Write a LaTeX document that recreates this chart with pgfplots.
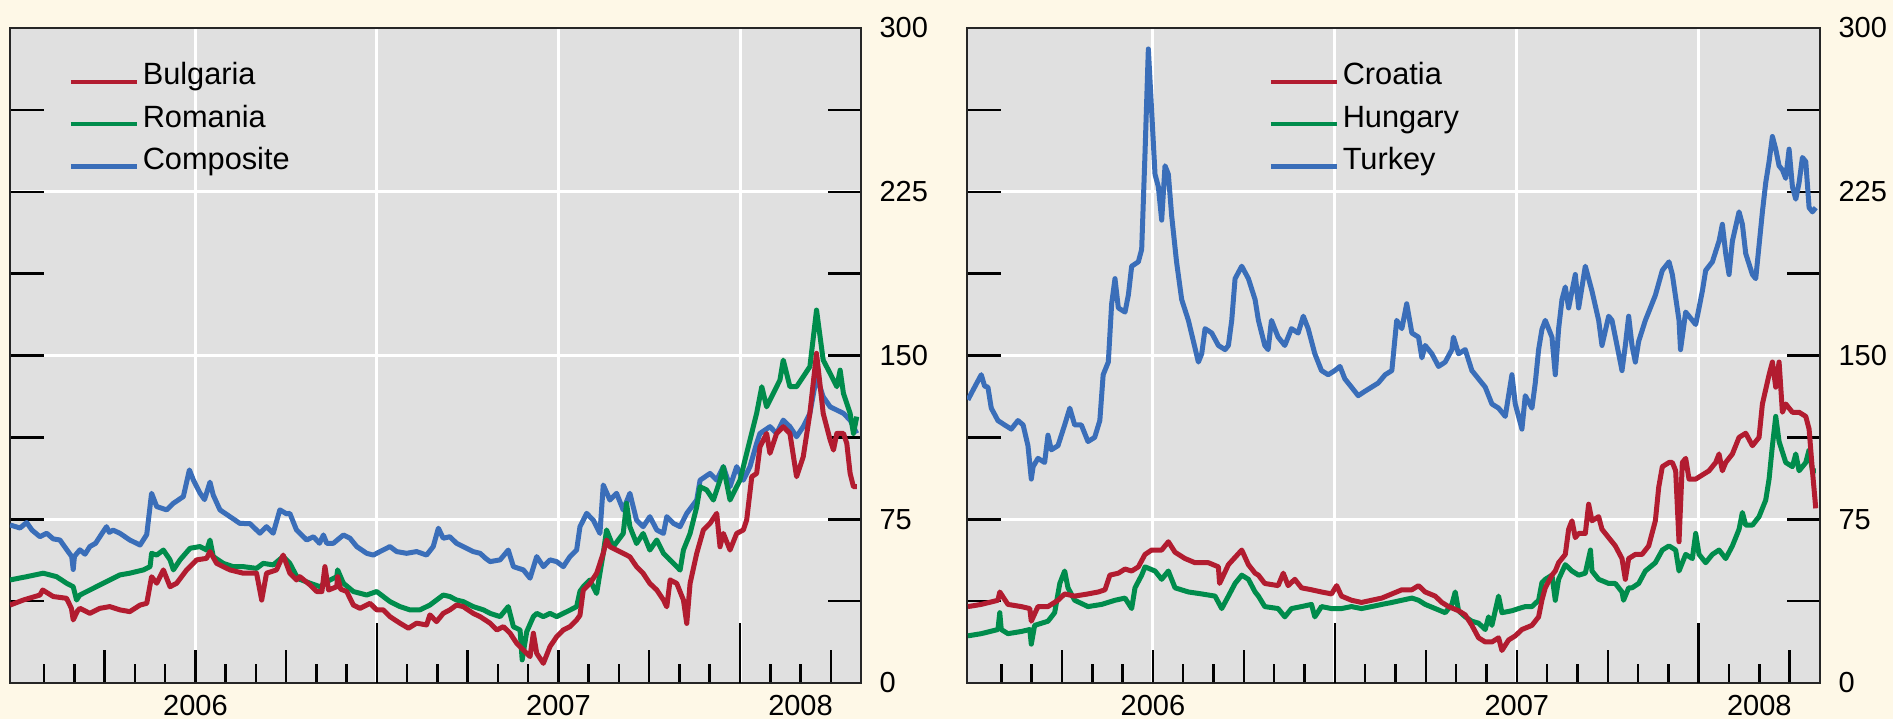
\documentclass[border=0pt]{standalone}
\usepackage{fontspec}
\setmainfont{Liberation Sans}
\usepackage{pgfplots}
\pgfplotsset{compat=1.18}
\definecolor{cream}{RGB}{254,248,231}
\definecolor{plotgray}{RGB}{224,224,224}
\definecolor{cred}{RGB}{178,28,48}
\definecolor{cgreen}{RGB}{0,140,76}
\definecolor{cblue}{RGB}{58,110,185}
\newcommand\tickfont{\fontsize{11.6}{13}\selectfont}
\newcommand\legfont{\fontsize{12.3}{14}\selectfont}
\tikzset{yearlab/.style={anchor=north, inner sep=0pt, font=\tickfont, yshift=-4.5pt}}
\pgfplotsset{
  base/.style={scale only axis, height=262pt, xmin=-0.13, xmax=28.0, ymin=0, ymax=300, anchor=south west},
  gridax/.style={base, axis background/.style={fill=plotgray}, axis line style={draw=none},
    xtick={6,12,18,24}, ytick={75,150,225}, xmajorgrids, ymajorgrids,
    major grid style={white, line width=1.2pt}, major tick length=0pt,
    xticklabels={}, yticklabels={}, tick style={draw=none}},
  dataax/.style={base, axis line style={line width=1.1pt, black!85},
    xtick={3,6,9,15,18,21,27},
    minor xtick={1,2,4,5,7,8,10,11,13,14,16,17,19,20,22,23,25,26},
    extra x ticks={12,24}, extra x tick labels={},
    extra x tick style={major tick length=24pt, tick style={black, line width=1pt}},
    major tick length=13.4pt, minor tick length=7.6pt,
    xtick pos=left, xticklabels={},
    ytick={0,37.5,75,112.5,150,187.5,225,262.5,300},
    yticklabels={0,,75,,150,,225,,300},
    yticklabel pos=right, ytick pos=both,
    tick align=inside,
    tick style={black, line width=1pt},
    yticklabel style={anchor=west, inner sep=0pt, xshift=7.2pt, font=\tickfont},
    clip mode=individual,
    every axis plot/.append style={line width=2pt, line join=round, no markers},
    legend style={draw=none, fill=none, anchor=north west, at={(0,1)}, yshift=-13.5pt,
      font=\legfont, inner sep=0pt, row sep=3.9pt, column sep=1.5pt,
      nodes={inner sep=0pt, text height=9pt, text depth=4pt}},
    legend cell align=left,
    legend image code/.code={\draw[##1, line width=1.8pt] (0pt,-1.3pt) -- (26.4pt,-1.3pt);},
    reverse legend}
}
\begin{document}
\begin{tikzpicture}
\path[use as bounding box, fill=cream] (0,0) rectangle (757.2pt,287.6pt);
% ---------------- left panel ----------------
\begin{axis}[gridax, width=340.4pt, at={(4pt,14.4pt)}]
\end{axis}
\begin{axis}[dataax, width=340.4pt, at={(4pt,14.4pt)}, legend style={xshift=23.2pt}]
\addplot[cblue] coordinates {(-0.13,72.4)(0.2,71)(0.42,73.5)(0.6,70)(0.86,67)(1.08,68.6)(1.3,66)(1.52,65.5)(1.75,61)(1.91,57.9)(1.96,52)(2.0,58)(2.18,61)(2.35,59)(2.51,62.5)(2.7,64)(2.84,67)(3.06,71.6)(3.15,69)(3.28,70)(3.5,68.6)(3.83,65.5)(4.17,63.2)(4.39,68)(4.55,86.9)(4.72,80.8)(5.05,79.3)(5.27,82.3)(5.6,85.4)(5.8,97.6)(5.93,93)(6.15,87)(6.3,84)(6.48,92)(6.59,86)(6.81,79.3)(7.14,76.2)(7.47,73.1)(7.8,73)(8.13,68.6)(8.35,71.6)(8.57,68.6)(8.79,79.3)(9.01,77.5)(9.12,77.7)(9.34,70.1)(9.45,68.6)(9.68,65.5)(9.9,67)(10.1,64)(10.23,67.8)(10.34,64)(10.56,64)(10.89,67.8)(11.11,66.3)(11.33,62.5)(11.66,59.4)(11.88,58.6)(12.1,60.2)(12.43,62.5)(12.65,60.2)(12.98,59.4)(13.31,60.2)(13.64,58.6)(13.86,62.5)(14.03,70.9)(14.19,66.3)(14.41,67)(14.63,64)(14.85,62.5)(15.18,60.2)(15.41,59.4)(15.6,57)(15.74,55.6)(16.07,56.4)(16.34,60.9)(16.51,53.3)(16.84,51.8)(17.06,48)(17.28,57.9)(17.5,53.3)(17.72,56.4)(17.94,55.6)(18.16,53.3)(18.38,57.9)(18.6,60.9)(18.71,71.6)(18.82,74.6)(18.93,77.7)(19.15,74.6)(19.37,68.5)(19.48,90.7)(19.7,83.8)(19.92,86.9)(20.14,79.2)(20.36,86.9)(20.58,74.6)(20.8,71.6)(21.02,76.2)(21.25,70.1)(21.47,68.5)(21.58,76.2)(21.8,73.1)(22.02,71.6)(22.24,77.7)(22.57,83.8)(22.68,92.9)(23.01,96)(23.23,92.9)(23.45,99.1)(23.67,89.9)(23.89,99.1)(24.11,92.9)(24.33,99.1)(24.55,109.8)(24.66,114.3)(24.99,117.4)(25.21,114.3)(25.43,120.4)(25.65,117.4)(25.87,112.8)(26.09,117.4)(26.31,123.5)(26.53,140.3)(26.75,131.1)(26.98,126.5)(27.2,125)(27.42,123.5)(27.64,120.4)(27.86,114.3)};
\addlegendentry{Composite}
\addplot[cgreen] coordinates {(-0.13,47.2)(0.42,48.7)(0.97,50.3)(1.41,48.7)(1.74,45.7)(1.96,44.1)(2.07,38)(2.18,40.3)(2.51,42.6)(2.84,44.9)(3.17,47.2)(3.5,49.5)(3.83,50.3)(4.28,51.8)(4.5,53.3)(4.55,59.4)(4.72,58.6)(4.94,60.9)(5.16,56.4)(5.27,51.8)(5.49,56.4)(5.82,61.7)(6.15,62.5)(6.37,60.9)(6.48,65.5)(6.59,57.9)(6.92,54.8)(7.25,53.3)(7.58,53.3)(8.02,52.5)(8.24,54.8)(8.57,54.1)(8.9,57.9)(9.12,54.8)(9.34,49)(9.45,47.5)(9.79,45.7)(10.12,44.1)(10.34,46.4)(10.67,48.7)(10.7,51.8)(10.89,45.7)(11.22,41.9)(11.66,40.3)(11.99,41.9)(12.21,39.6)(12.43,37.3)(12.76,35)(13.09,33.5)(13.42,33.5)(13.75,35.7)(13.97,38)(14.19,40.3)(14.41,39.6)(14.63,38)(14.85,37.3)(15.18,35)(15.52,33.5)(15.74,31.9)(16.07,30.4)(16.34,35)(16.51,25.8)(16.73,24.3)(16.8,10.6)(16.95,23.5)(17.17,30.4)(17.28,31.9)(17.5,30.4)(17.72,31.9)(17.94,30.4)(18.16,31.9)(18.38,33.4)(18.6,35)(18.71,42)(18.82,44.1)(19.04,47.2)(19.26,41)(19.48,59.4)(19.59,70.1)(19.81,62.4)(20.14,68.5)(20.25,82.3)(20.36,71.6)(20.58,63.9)(20.8,68.5)(21.02,60.9)(21.25,65.5)(21.47,59.4)(21.69,56.3)(21.91,53.3)(22.02,51.7)(22.13,60.9)(22.35,68.5)(22.57,80.7)(22.68,89.9)(22.9,88.4)(23.12,83.8)(23.34,92.9)(23.45,99.1)(23.67,83.8)(23.89,89.9)(24,92.9)(24.22,105.2)(24.44,117.4)(24.55,123.5)(24.72,135.7)(24.88,126.5)(25.1,132.6)(25.32,138.8)(25.43,147.9)(25.65,135.7)(25.87,135.7)(26.09,140.3)(26.31,144.9)(26.53,170.8)(26.75,147.9)(26.98,141.8)(27.2,135.7)(27.31,143.3)(27.42,132.6)(27.64,123.5)(27.75,114.3)(27.86,122)};
\addlegendentry{Romania}
\addplot[cred] coordinates {(-0.13,35.7)(0.31,38)(0.86,40.3)(0.95,42.6)(1.3,39.6)(1.74,38.8)(1.9,34.2)(1.96,28.9)(2.1,33)(2.18,34.2)(2.51,31.9)(2.84,34.2)(3.17,35)(3.5,33.5)(3.83,32.7)(4.17,35.7)(4.39,36.5)(4.55,48.7)(4.72,45.7)(4.94,51.8)(5.16,44.1)(5.38,45.7)(5.71,51.8)(6.04,56.4)(6.37,57.1)(6.48,60.2)(6.7,54.8)(7.14,51.8)(7.58,50.3)(8.02,50.3)(8.19,38)(8.35,50.3)(8.68,51.8)(8.9,58.6)(9.12,50.3)(9.34,47.2)(9.45,48.7)(9.79,44.9)(10.01,41.9)(10.18,41.9)(10.28,53.3)(10.4,42.6)(10.67,44.1)(10.7,48.7)(10.8,43)(11,41.9)(11.22,35.7)(11.44,34.2)(11.77,36.5)(11.99,33.5)(12.21,33.5)(12.43,30.4)(12.76,27.4)(13.04,25.1)(13.31,27.4)(13.64,26.6)(13.75,31.2)(13.97,28.1)(14.19,31.9)(14.41,33.5)(14.63,35.7)(14.85,35)(15.18,31.9)(15.41,30.4)(15.74,27.4)(15.96,24.3)(16.18,25.8)(16.4,22.8)(16.62,18.2)(16.84,15.1)(17.06,12.1)(17.17,22.8)(17.28,13.6)(17.5,9)(17.72,16.7)(17.94,21.2)(18.16,24.3)(18.38,25.8)(18.6,28.9)(18.71,31)(18.82,42.6)(19.04,45.6)(19.26,50.2)(19.48,59.4)(19.59,65.5)(19.7,62.4)(19.92,60.9)(20.14,59.4)(20.36,57.8)(20.58,53.3)(20.8,50.2)(21.02,45.6)(21.25,42.6)(21.47,38)(21.58,34.9)(21.69,47.2)(21.91,45.6)(22.13,38)(22.24,27.3)(22.35,45.6)(22.57,59.4)(22.79,70.1)(23.01,73.1)(23.23,77.7)(23.34,62.4)(23.45,68.5)(23.67,60.9)(23.89,68.5)(24.11,70.1)(24.22,74.6)(24.39,94.5)(24.55,96)(24.66,108.2)(24.88,114.3)(24.99,105.2)(25.21,114.3)(25.43,117.4)(25.65,114.3)(25.87,94.5)(26.09,103.6)(26.31,123.5)(26.53,151)(26.75,123.5)(26.98,111.3)(27.09,106.7)(27.2,114.3)(27.42,114.3)(27.53,109.8)(27.64,96)(27.75,89.9)(27.86,89.9)};
\addlegendentry{Bulgaria}
\node[yearlab] at (axis cs:6,0) {2006};
\node[yearlab] at (axis cs:18,0) {2007};
\node[yearlab] at (axis cs:26,0) {2008};
\end{axis}
% ---------------- right panel ----------------
\begin{axis}[gridax, width=341.2pt, at={(386.8pt,14.4pt)}]
\end{axis}
\begin{axis}[dataax, width=341.2pt, at={(386.8pt,14.4pt)}, legend style={xshift=120.4pt}]
\addplot[cblue] coordinates {(-0.1,129.7)(0.12,135.5)(0.34,141.2)(0.45,136)(0.56,135.5)(0.67,125.9)(0.89,120.2)(1.11,118.2)(1.33,116.3)(1.55,120.2)(1.72,118.2)(1.88,108.7)(1.99,93.4)(2.05,99.1)(2.21,102.9)(2.43,101)(2.54,113.5)(2.65,106.8)(2.87,108.7)(3.09,118.2)(3.26,125.9)(3.42,118.2)(3.64,118.2)(3.86,110.6)(4.08,112.5)(4.25,120.2)(4.36,141.2)(4.53,147)(4.64,173.7)(4.75,185.2)(4.86,171.8)(5.08,169.9)(5.19,177.6)(5.3,190.9)(5.52,192.9)(5.63,198.6)(5.74,242.6)(5.85,290.4)(5.96,261.7)(6.07,233)(6.18,227.3)(6.29,212)(6.4,236.9)(6.51,233)(6.62,213.9)(6.78,192.9)(6.95,175.6)(7.17,166.1)(7.5,147)(7.61,150.8)(7.72,162.3)(7.94,160.3)(8.16,154.6)(8.38,152.7)(8.49,154.6)(8.6,166.1)(8.71,185.2)(8.93,190.9)(9.15,185.2)(9.37,175.6)(9.48,166.1)(9.69,154.6)(9.8,152.7)(9.91,166.1)(10.13,158.4)(10.35,154.6)(10.57,162.3)(10.79,160.3)(10.96,168)(11.12,162.3)(11.34,150.8)(11.56,143.1)(11.78,141.2)(12.0,143.1)(12.17,145)(12.33,139.3)(12.55,135.5)(12.77,131.6)(12.99,133.6)(13.21,135.5)(13.43,137.4)(13.66,141.2)(13.88,143.1)(14.04,166.1)(14.21,162.3)(14.37,173.7)(14.54,160.3)(14.76,158.4)(14.87,148.9)(14.98,154.6)(15.2,150.8)(15.42,145)(15.64,147)(15.86,152.7)(15.91,158.4)(16.08,150.8)(16.3,152.7)(16.52,143.1)(16.74,139.3)(16.96,135.5)(17.18,127.8)(17.4,125.9)(17.62,122.1)(17.84,141.2)(17.95,127.8)(18.17,116.3)(18.28,131.6)(18.5,125.9)(18.61,137.4)(18.72,152.7)(18.83,162)(18.94,166.1)(19.16,158.4)(19.27,141.2)(19.38,162.3)(19.49,175.6)(19.6,181.4)(19.71,171.8)(19.93,187.1)(20.04,171.8)(20.26,190.9)(20.37,185.2)(20.48,179.5)(20.7,166.1)(20.81,154.6)(21.03,168)(21.14,166.1)(21.36,150.8)(21.47,143.1)(21.58,154.6)(21.69,168)(21.8,154.6)(21.91,147)(22.02,156.5)(22.24,166.1)(22.35,169.9)(22.57,177.6)(22.8,189)(23.02,192.9)(23.13,187.1)(23.35,166.1)(23.4,152.7)(23.57,169.9)(23.79,166.1)(23.9,164.2)(24.01,171.8)(24.12,179.5)(24.23,189)(24.45,192.9)(24.67,202.4)(24.78,210.1)(24.89,196.7)(25.0,187.1)(25.11,202.4)(25.33,215.8)(25.44,210.1)(25.55,196.7)(25.77,187.1)(25.88,185.2)(25.99,200.5)(26.1,215.8)(26.21,229.2)(26.32,238.8)(26.43,250.3)(26.54,244.5)(26.65,236.9)(26.76,235)(26.87,231.1)(26.98,244.5)(27.09,227.3)(27.2,221.6)(27.31,229.2)(27.42,240.7)(27.53,238.8)(27.64,217.7)(27.75,215.8)(27.86,217.7)};
\addlegendentry{Turkey}
\addplot[cgreen] coordinates {(-0.1,21.6)(0.34,22.6)(0.89,24.5)(0.95,32.2)(1.0,24.5)(1.22,22.6)(1.66,23.6)(1.94,24.5)(1.99,17.8)(2.1,26.4)(2.54,28.3)(2.76,32.2)(2.93,45.6)(3.09,51.3)(3.2,43.6)(3.42,37.9)(3.86,35)(4.31,36)(4.75,37.9)(5.08,38.9)(5.3,34.1)(5.41,43.6)(5.63,49.4)(5.74,53.2)(6.07,51.3)(6.29,47.5)(6.51,51.3)(6.73,43.6)(7.17,41.7)(7.61,40.8)(8.05,39.8)(8.27,34.1)(8.49,39.8)(8.71,45.6)(8.93,49.4)(9.15,47.5)(9.37,41.7)(9.48,39.8)(9.69,35)(10.13,34.1)(10.35,30.3)(10.57,34.1)(10.9,35)(11.23,36)(11.34,30.3)(11.56,35)(11.89,34.1)(12.22,34.1)(12.55,35)(12.88,34.1)(13.21,35)(13.55,36)(13.88,36.9)(14.21,37.9)(14.54,38.9)(14.76,37.9)(14.98,36)(15.31,34.1)(15.64,32.2)(15.86,36)(15.97,41.7)(16.08,33.1)(16.3,30.3)(16.52,28.3)(16.74,27.4)(16.96,24.5)(17.07,30.3)(17.18,26.4)(17.4,39.8)(17.51,32.2)(17.84,33.1)(18.06,34.1)(18.28,35)(18.5,35)(18.72,37.9)(18.83,46)(18.94,47.5)(19.16,49.4)(19.27,37.9)(19.38,47.5)(19.6,54.2)(19.82,51.3)(20.04,49.4)(20.26,50.3)(20.43,60.9)(20.48,51.3)(20.7,47.5)(21.03,45.6)(21.25,45.6)(21.47,41.7)(21.52,37.9)(21.69,43.6)(21.8,43.6)(22.02,45.6)(22.24,51.3)(22.57,55.1)(22.8,60.9)(23.02,62.8)(23.24,60.9)(23.35,51.3)(23.57,58.9)(23.79,57)(23.9,68.5)(24.01,58.9)(24.23,55.1)(24.45,58.9)(24.67,60.9)(24.89,57)(25.11,62.8)(25.33,70.4)(25.44,78.1)(25.55,72.3)(25.77,72.3)(25.99,76.2)(26.21,83.8)(26.32,93.4)(26.43,108.7)(26.54,122.1)(26.65,110.6)(26.87,101)(27.09,99.1)(27.2,104.9)(27.31,97.2)(27.53,101)(27.64,106.8)(27.75,97.2)(27.86,97.2)};
\addlegendentry{Hungary}
\addplot[cred] coordinates {(-0.1,35)(0.34,36)(0.89,37.9)(0.95,41.7)(1.22,36)(1.66,35)(1.94,34.1)(1.99,28.3)(2.21,35)(2.54,35)(2.87,37.9)(3.09,40.8)(3.42,39.8)(3.86,40.8)(4.2,41.7)(4.42,42.7)(4.58,49.4)(4.86,50.3)(5.08,52.2)(5.3,51.3)(5.52,53.2)(5.74,58.9)(5.96,60.9)(6.29,60.9)(6.51,64.7)(6.73,59.9)(7.06,57)(7.39,55.1)(7.83,55.1)(8.16,53.2)(8.2,45.6)(8.49,54.2)(8.93,60.9)(9.15,54.2)(9.37,50.3)(9.48,49.4)(9.69,45.6)(10.13,44.6)(10.3,50.3)(10.46,44.6)(10.68,47.5)(10.9,43.6)(11.23,42.7)(11.56,41.7)(11.89,40.8)(12.06,44.6)(12.22,39.8)(12.55,37.9)(12.88,36.9)(13.21,37.9)(13.55,38.9)(13.88,40.8)(14.21,42.7)(14.54,42.7)(14.76,44.6)(14.98,41.7)(15.31,39.8)(15.53,36.9)(15.75,35)(16.08,33.1)(16.3,31.2)(16.52,26.4)(16.74,20.7)(16.96,18.8)(17.18,18.8)(17.4,20.7)(17.51,14.9)(17.73,19.7)(17.95,21.6)(18.17,24.5)(18.5,26.4)(18.72,30.3)(18.83,38)(18.94,43.6)(19.16,49.4)(19.27,51.3)(19.38,55.1)(19.6,58.9)(19.71,70.4)(19.82,74.3)(19.93,66.6)(20.04,68.5)(20.26,68.5)(20.37,81.9)(20.48,74.3)(20.7,76.2)(20.81,70.4)(21.03,66.6)(21.25,62.8)(21.47,57)(21.58,47.5)(21.69,57)(21.91,58.9)(22.13,58.9)(22.35,62.8)(22.57,74.3)(22.68,89.6)(22.8,99.1)(23.02,101)(23.13,101)(23.24,97.2)(23.35,64.7)(23.46,101)(23.57,102.9)(23.68,93.4)(23.9,93.4)(24.12,95.3)(24.34,97.2)(24.56,101)(24.67,104.9)(24.78,97.2)(24.89,101)(25.11,104.9)(25.33,112.5)(25.55,114.4)(25.77,108.7)(25.99,112.5)(26.1,127.8)(26.32,141.2)(26.43,147)(26.54,135.5)(26.65,147)(26.76,124)(26.87,127.8)(27.09,124)(27.31,124)(27.53,122.1)(27.64,116.3)(27.75,97.2)(27.86,80)};
\addlegendentry{Croatia}
\node[yearlab] at (axis cs:6,0) {2006};
\node[yearlab] at (axis cs:18,0) {2007};
\node[yearlab] at (axis cs:26,0) {2008};
\end{axis}
\end{tikzpicture}
\end{document}
